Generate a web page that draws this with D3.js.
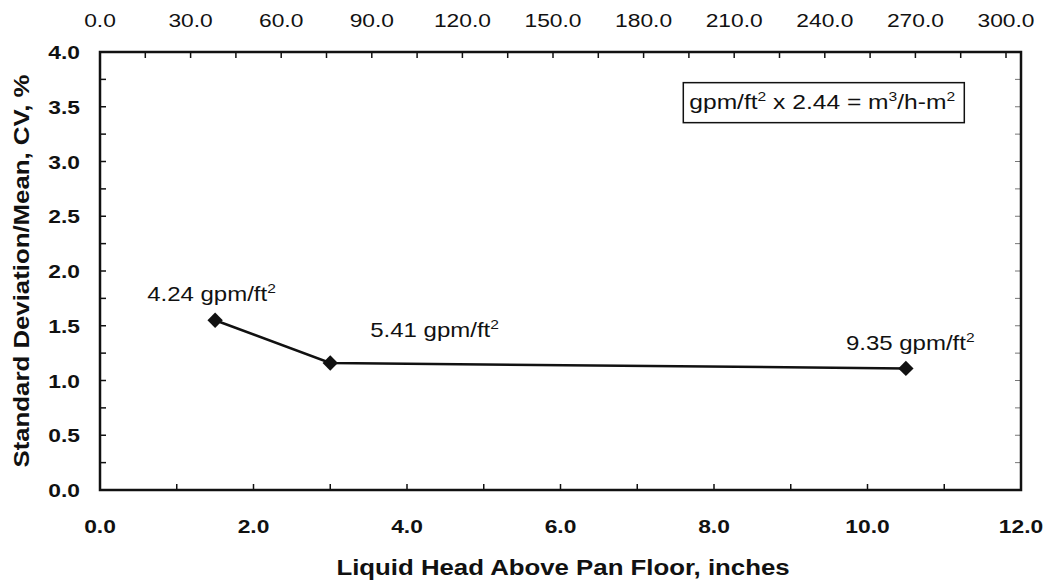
<!DOCTYPE html>
<html>
<head>
<meta charset="utf-8">
<script src="https://cdn.jsdelivr.net/npm/d3@7"></script>
<style>
  body { margin: 0; background: #fff; }
  text { font-family: "Liberation Sans", Arial, sans-serif; fill: #111; }
</style>
</head>
<body>
<script>
// data
var headInches = [1.5, 3.0, 10.5];
var cvPercent = [1.55, 1.16, 1.11];
var pointLabels = ["4.24", "5.41", "9.35"];
var bottomTicks = [0, 2, 4, 6, 8, 10, 12];
var topTicks = [0, 30, 60, 90, 120, 150, 180, 210, 240, 270, 300];
var yTicks = [0, 0.5, 1, 1.5, 2, 2.5, 3, 3.5, 4];

var width = 1048, height = 586;
var margin = {top: 52, right: 27, bottom: 96, left: 100};
var plotW = width - margin.left - margin.right,
    plotH = height - margin.top - margin.bottom;
var sx = 1.2; // the scanned lettering is wider than Arial

var svg = d3.select("body").append("svg")
    .attr("width", width)
    .attr("height", height);

var x = d3.scaleLinear().domain([0, 12]).range([0, plotW]);
//top scale in the original stops short of the frame
var xTop = d3.scaleLinear().domain([0, 300]).range([0, 906]);
var y = d3.scaleLinear().domain([0, 4]).range([plotH, 0]);

var g = svg.append("g")
    .attr("transform", "translate(" + margin.left + "," + margin.top + ")");

//stretched text helper
function stext(parent, px, py, size){
    return parent.append("text")
        .attr("transform", "translate(" + px + "," + py + ") scale(" + sx + ",1)")
        .style("font-size", size + "px");
}
function sup(t, s){
    t.append("tspan").attr("dy", -8).style("font-size", "13px").text(s);
}

// inward tick marks
var tickLen = 6;
g.selectAll(".xtick").data(d3.range(1, 12)).enter().append("line")
    .attr("x1", function(d){ return x(d); })
    .attr("x2", function(d){ return x(d); })
    .attr("y1", plotH).attr("y2", plotH - tickLen)
    .attr("stroke", "#111").attr("stroke-width", 1.5);

g.selectAll(".ttick").data(d3.range(15, 301, 15)).enter().append("line")
    .attr("x1", function(d){ return xTop(d); })
    .attr("x2", function(d){ return xTop(d); })
    .attr("y1", 0).attr("y2", tickLen)
    .attr("stroke", "#111").attr("stroke-width", 1.5);

g.selectAll(".ytick").data(d3.range(0.25, 4, 0.25)).enter().append("line")
    .attr("x1", 0).attr("x2", tickLen)
    .attr("y1", function(d){ return y(d); })
    .attr("y2", function(d){ return y(d); })
    .attr("stroke", "#111").attr("stroke-width", 1.5);

g.selectAll(".rtick").data(d3.range(0.25, 4, 0.25)).enter().append("line")
    .attr("x1", plotW).attr("x2", plotW - tickLen)
    .attr("y1", function(d){ return y(d); })
    .attr("y2", function(d){ return y(d); })
    .attr("stroke", "#777").attr("stroke-width", 1);

// frame
g.append("rect")
    .attr("width", plotW).attr("height", plotH)
    .attr("fill", "none").attr("stroke", "#111").attr("stroke-width", 2.5);

// tick labels
bottomTicks.forEach(function(d){
    stext(g, x(d), plotH + 43, 19)
        .attr("text-anchor", "middle").style("font-weight", "bold")
        .text(d.toFixed(1));
});

topTicks.forEach(function(d){
    stext(g, xTop(d), -25, 19)
        .attr("text-anchor", "middle")
        .text(d.toFixed(1));
});

yTicks.forEach(function(d){
    stext(g, -20, y(d) + 7, 19)
        .attr("text-anchor", "end").style("font-weight", "bold")
        .text(d.toFixed(1));
});

// axis titles
stext(svg, 563, 575, 21.5)
    .attr("text-anchor", "middle").style("font-weight", "bold")
    .text("Liquid Head Above Pan Floor, inches");

svg.append("text")
    .attr("transform", "translate(29,271) rotate(-90) scale(" + sx + ",1)")
    .attr("text-anchor", "middle")
    .style("font-size", "21.5px").style("font-weight", "bold")
    .text("Standard Deviation/Mean, CV, %");

// series line and diamonds
var pts = headInches.map(function(h, i){ return [h, cvPercent[i]]; });
var line = d3.line()
    .x(function(d){ return x(d[0]); })
    .y(function(d){ return y(d[1]); });

g.append("path").datum(pts)
    .attr("d", line)
    .attr("fill", "none").attr("stroke", "#111").attr("stroke-width", 2.5);

g.selectAll(".pt").data(pts).enter().append("path")
    .attr("d", d3.symbol().type(d3.symbolDiamond2).size(150))
    .attr("transform", function(d){ return "translate(" + x(d[0]) + "," + y(d[1]) + ")"; })
    .attr("fill", "#111");

// point labels
var labelOffsets = [[-68, -19], [40, -26], [-60, -18]];
pts.forEach(function(d, i){
    var t = stext(g, x(d[0]) + labelOffsets[i][0], y(d[1]) + labelOffsets[i][1], 20);
    t.append("tspan").text(pointLabels[i] + " gpm/ft");
    sup(t, "2");
});

// conversion note
var box = g.append("g").attr("transform", "translate(" + (x(7.6)) + "," + (y(3.72)) + ")");
box.append("rect")
    .attr("width", 281).attr("height", 40)
    .attr("fill", "#fff").attr("stroke", "#111").attr("stroke-width", 1.5);
var note = stext(box, 6, 26, 20.5);
note.append("tspan").text("gpm/ft");
sup(note, "2");
note.append("tspan").attr("dy", 8).text(" x 2.44 = m");
sup(note, "3");
note.append("tspan").attr("dy", 8).text("/h-m");
sup(note, "2");
</script>
</body>
</html>
